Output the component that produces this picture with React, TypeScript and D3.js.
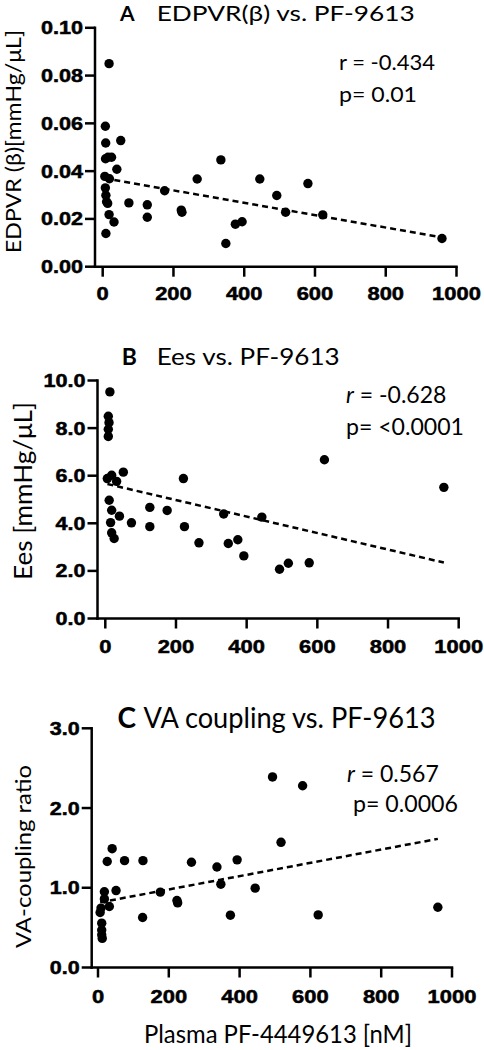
import React from "react";
import * as d3 from "d3";

// ---------- data ----------
const xTicks = [0, 200, 400, 600, 800, 1000];

const aTicks = [0, 0.02, 0.04, 0.06, 0.08, 0.1];
const aX = [18, 7.5, 8.5, 51, 8, 15, 25, 40, 6, 19, 7.5, 9, 11, 14, 18, 32, 9, 74, 126, 126, 175, 222, 224, 267, 334, 348, 375, 394, 444, 492, 517, 580, 622, 959];
const aY = [0.085, 0.0588, 0.0518, 0.0528, 0.0452, 0.0458, 0.0458, 0.0408, 0.0378, 0.0368, 0.033, 0.0299, 0.0272, 0.0265, 0.0218, 0.0187, 0.0139, 0.0267, 0.0259, 0.0207, 0.0318, 0.0237, 0.0228, 0.0367, 0.0447, 0.0097, 0.0178, 0.0188, 0.0367, 0.0298, 0.0228, 0.0348, 0.0217, 0.0118];
const aFitX = [5, 959];
const aFitY = [0.037, 0.01226];

const bTicks = [0, 2, 4, 6, 8, 10];
const bX = [13, 8.5, 10.5, 8.5, 8.5, 5.7, 18, 32, 51, 11, 18, 40, 15, 18, 25, 74, 126, 126, 175, 221, 224, 265, 335, 348, 375, 392, 443, 493, 518, 577, 620, 958];
const bY = [9.52, 8.5, 8.23, 7.95, 7.65, 5.88, 6.02, 5.76, 6.15, 4.97, 4.55, 4.3, 4.03, 3.6, 3.36, 4.02, 4.67, 3.86, 4.54, 5.88, 3.86, 3.18, 4.39, 3.15, 3.31, 2.63, 4.26, 2.07, 2.32, 2.34, 6.67, 5.51];
const bFitX = [6, 958];
const bFitY = [5.65, 2.35];

const cTicks = [0, 1, 2, 3];
const cX = [493, 578, 517, 40, 26, 75, 127, 264, 336, 393, 347, 444, 51, 18, 18, 176, 223, 225, 32, 8.5, 6, 10.5, 10.5, 10.5, 12, 126, 374, 622, 960];
const cY = [2.39, 2.28, 1.57, 1.49, 1.33, 1.34, 1.34, 1.32, 1.26, 1.35, 1.045, 0.995, 0.965, 0.95, 0.86, 0.945, 0.84, 0.81, 0.765, 0.745, 0.69, 0.556, 0.47, 0.41, 0.365, 0.627, 0.656, 0.66, 0.756];
const cFitX = [6, 960];
const cFitY = [0.817, 1.613];

const TXT = "Lato, 'Open Sans', sans-serif";
const TICKF = "'Liberation Sans', Arial, sans-serif";

// width of the wide bold tick label glyphs
const tickWidth = (s: string) =>
  s.split("").reduce((w, ch) => w + (ch === "." ? 5.5 : 12.2), 0);

type PanelProps = {
  xs: number[];
  ys: number[];
  fitX: number[];
  fitY: number[];
  yTicks: number[];
  yFmt: (v: number) => string;
  yMax: number;
  axisX: number;
  x0: number;
  x1000: number;
  yTop: number;
  yBottom: number;
  xTickBaseline: number;
  letter: string;
  letterX: number;
  title: string;
  titleX: number;
  titleLen: number;
  titleBase: number;
  titleSize: number;
  yLabel: string;
  yLabelX: number;
  yLabelCY: number;
  yLabelLen: number;
  yLabelSize: number;
  rItalic: boolean;
  rText: string;
  rX: number;
  rBase: number;
  pText: string;
  pX: number;
  pBase: number;
  pLen: number;
  statSize: number;
};

function Panel(p: PanelProps) {
  const x = d3.scaleLinear().domain([0, 1000]).range([p.x0, p.x1000]);
  const y = d3.scaleLinear().domain([0, p.yMax]).range([p.yBottom, p.yTop]);
  const line = d3
    .line<number>()
    .x((_, i) => x(p.fitX[i]))
    .y((d) => y(d));
  const tickLen = 9;
  return (
    <g>
      <text x={p.letterX} y={p.titleBase} fontFamily={TXT} fontWeight="bold" fontSize={p.titleSize} fill="#000">
        {p.letter}
      </text>
      <text
        x={p.titleX}
        y={p.titleBase}
        fontFamily={TXT}
        fontSize={p.titleSize}
        fill="#000"
        textLength={p.titleLen}
        lengthAdjust="spacingAndGlyphs"
      >
        {p.title}
      </text>
      <text
        transform={`translate(${p.yLabelX},${p.yLabelCY}) rotate(-90)`}
        textAnchor="middle"
        fontFamily={TXT}
        fontSize={p.yLabelSize}
        fill="#000"
        textLength={p.yLabelLen}
        lengthAdjust="spacingAndGlyphs"
      >
        {p.yLabel}
      </text>
      <line x1={p.axisX} x2={p.axisX} y1={p.yTop} y2={p.yBottom} stroke="#000" strokeWidth={2.5} strokeLinecap="square" />
      <line x1={p.axisX} x2={p.x1000} y1={p.yBottom} y2={p.yBottom} stroke="#000" strokeWidth={2.5} strokeLinecap="square" />
      {p.yTicks.map((t) => {
        const s = p.yFmt(t);
        return (
          <g key={"y" + t}>
            <line x1={p.axisX - tickLen - 1} x2={p.axisX} y1={y(t)} y2={y(t)} stroke="#000" strokeWidth={2.5} />
            <text
              x={p.axisX - tickLen - 3 - tickWidth(s)}
              y={y(t)}
              dy="0.36em"
              fontFamily={TICKF}
              fontWeight="bold"
              fontSize={18}
              fill="#000"
              stroke="#000"
              strokeWidth={0.5}
              textLength={tickWidth(s)}
              lengthAdjust="spacingAndGlyphs"
            >
              {s}
            </text>
          </g>
        );
      })}
      {xTicks.map((t) => {
        const s = String(t);
        return (
          <g key={"x" + t}>
            <line x1={x(t)} x2={x(t)} y1={p.yBottom} y2={p.yBottom + tickLen + 1} stroke="#000" strokeWidth={2.5} />
            <text
              x={x(t) - tickWidth(s) / 2}
              y={p.xTickBaseline}
              fontFamily={TICKF}
              fontWeight="bold"
              fontSize={18}
              fill="#000"
              stroke="#000"
              strokeWidth={0.5}
              textLength={tickWidth(s)}
              lengthAdjust="spacingAndGlyphs"
            >
              {s}
            </text>
          </g>
        );
      })}
      <path d={line(p.fitY) || ""} fill="none" stroke="#000" strokeWidth={2.5} strokeDasharray="6,4" />
      {p.xs.map((v, i) => (
        <circle key={i} cx={x(v)} cy={y(p.ys[i])} r={4.7} fill="#000" />
      ))}
      <text x={p.rX} y={p.rBase} fontFamily={TXT} fontSize={p.statSize} fill="#000">
        <tspan fontStyle={p.rItalic ? "italic" : "normal"}>r</tspan>
        <tspan>{p.rText}</tspan>
      </text>
      <text
        x={p.pX}
        y={p.pBase}
        fontFamily={TXT}
        fontSize={p.statSize}
        fill="#000"
        textLength={p.pLen}
        lengthAdjust="spacingAndGlyphs"
      >
        {p.pText}
      </text>
    </g>
  );
}

export default function App() {
  const f2 = d3.format(".2f");
  const f1 = d3.format(".1f");
  return (
    <svg
      width={484}
      height={1050}
      style={{ position: "absolute", left: 0, top: 0, display: "block", background: "#fff" }}
    >
      <rect width={484} height={1050} fill="#fff" />
      <Panel
        xs={aX}
        ys={aY}
        fitX={aFitX}
        fitY={aFitY}
        yTicks={aTicks}
        yFmt={f2}
        yMax={0.1}
        axisX={95}
        x0={102.7}
        x1000={456.5}
        yTop={27.8}
        yBottom={266.7}
        xTickBaseline={300}
        letter="A"
        letterX={120}
        title="EDPVR(β) vs. PF-9613"
        titleX={156.7}
        titleLen={258}
        titleBase={20.7}
        titleSize={21}
        yLabel="EDPVR (β)[mmHg/μL]"
        yLabelX={21}
        yLabelCY={141.5}
        yLabelLen={223}
        yLabelSize={22}
        rItalic={false}
        rText=" = -0.434"
        rX={339}
        rBase={70}
        pText="p= 0.01"
        pX={339}
        pBase={101.7}
        pLen={78}
        statSize={22}
      />
      <Panel
        xs={bX}
        ys={bY}
        fitX={bFitX}
        fitY={bFitY}
        yTicks={bTicks}
        yFmt={f1}
        yMax={10}
        axisX={97.5}
        x0={105.3}
        x1000={458.7}
        yTop={380.5}
        yBottom={618.5}
        xTickBaseline={653}
        letter="B"
        letterX={121.7}
        title="Ees vs. PF-9613"
        titleX={156.7}
        titleLen={183}
        titleBase={365}
        titleSize={23}
        yLabel="Ees [mmHg/μL]"
        yLabelX={31.5}
        yLabelCY={491}
        yLabelLen={178}
        yLabelSize={25}
        rItalic={true}
        rText=" = -0.628"
        rX={346}
        rBase={402.7}
        pText="p= <0.0001"
        pX={346}
        pBase={435}
        pLen={118}
        statSize={23}
      />
      <Panel
        xs={cX}
        ys={cY}
        fitX={cFitX}
        fitY={cFitY}
        yTicks={cTicks}
        yFmt={f1}
        yMax={3}
        axisX={91.7}
        x0={98}
        x1000={452}
        yTop={728.3}
        yBottom={967.5}
        xTickBaseline={1003}
        letter="C"
        letterX={117.5}
        title="VA coupling vs. PF-9613"
        titleX={143.5}
        titleLen={292}
        titleBase={728}
        titleSize={28}
        yLabel="VA-coupling ratio"
        yLabelX={31}
        yLabelCY={856.5}
        yLabelLen={183}
        yLabelSize={22}
        rItalic={true}
        rText=" = 0.567"
        rX={347}
        rBase={781.7}
        pText="p= 0.0006"
        pX={353}
        pBase={812}
        pLen={105}
        statSize={23}
      />
      <text
        x={278}
        y={1043}
        textAnchor="middle"
        fontFamily={TXT}
        fontSize={25}
        fill="#000"
        textLength={268}
        lengthAdjust="spacingAndGlyphs"
      >
        Plasma PF-4449613 [nM]
      </text>
    </svg>
  );
}
